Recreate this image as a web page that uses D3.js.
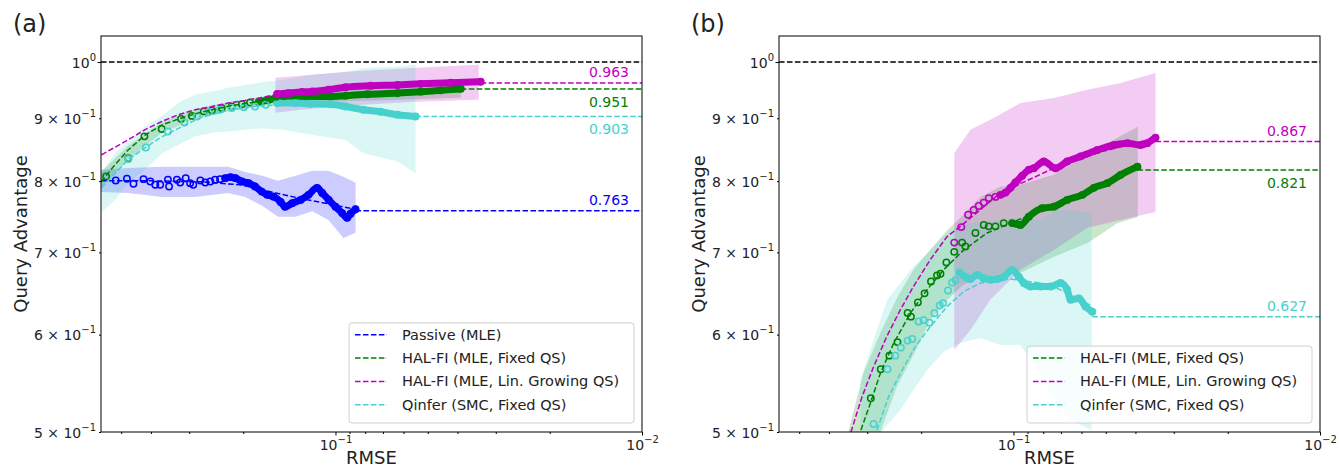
<!DOCTYPE html>
<html>
<head>
<meta charset="utf-8">
<script src="https://cdn.jsdelivr.net/npm/d3@7"></script>
<style>
body { margin: 0; background: #fff; }
text { font-family: 'DejaVu Sans', sans-serif; }
</style>
</head>
<body>
<svg id="chart" width="1339" height="470"></svg>
<script>
// ---------- panel (a): [RMSE, query advantage] ----------
var passiveA = [[0.521,0.801],[0.479,0.8035],[0.456,0.796],[0.423,0.803],[0.402,0.7995],[0.387,0.7945],[0.373,0.7945],
  [0.352,0.802],[0.349,0.792],[0.329,0.802],[0.321,0.798],[0.308,0.8045],[0.298,0.797],[0.291,0.7945],[0.276,0.801],
  [0.266,0.798],[0.256,0.7995],[0.247,0.802],[0.238,0.803],[0.229,0.8045],[0.220,0.806],[0.212,0.8045],[0.202,0.7995],
  [0.192,0.797],[0.183,0.792],[0.174,0.7845],[0.167,0.7797],[0.159,0.777],[0.151,0.7695],[0.146,0.7625],[0.1385,0.7675],
  [0.130,0.7724],[0.1225,0.7797],[0.1148,0.790],[0.1105,0.7825],[0.1052,0.7724],[0.100,0.7625],[0.0951,0.7535],
  [0.0916,0.7468],[0.0893,0.7527],[0.0860,0.759]]
var passiveFitA = [[0.582,0.8005],[0.402,0.8005],[0.276,0.799],[0.204,0.7945],[0.157,0.7826],[0.130,0.7745],[0.108,0.7675],[0.086,0.759]]
// [RMSE, lower, upper]
var passiveBandA = [[0.582,0.784,0.8173],[0.475,0.7826,0.820],[0.368,0.7767,0.822],[0.287,0.7767,0.822],[0.224,0.7826,0.822],
  [0.197,0.7767,0.814],[0.173,0.7636,0.808],[0.154,0.7484,0.8005],[0.135,0.7484,0.808],[0.119,0.7561,0.8157],
  [0.1054,0.744,0.8157],[0.0942,0.7193,0.8065],[0.086,0.7263,0.7975]]

var fixedA = [[0.560,0.807],[0.474,0.835],[0.420,0.870],[0.369,0.882],[0.319,0.899],[0.294,0.904],[0.269,0.9117],[0.253,0.9134],
  [0.235,0.9175],[0.218,0.920],[0.202,0.924],[0.190,0.927],[0.178,0.928],[0.165,0.9318],[0.153,0.935],[0.140,0.936],
  [0.121,0.9375],[0.1038,0.9375],[0.0927,0.939],[0.0786,0.9414],[0.0627,0.9435],[0.0527,0.946],[0.0454,0.9485],[0.0390,0.951]]
var fixedFitA = [[0.582,0.799],[0.524,0.825],[0.475,0.848],[0.418,0.872],[0.368,0.889],[0.316,0.9009],[0.276,0.910],
  [0.220,0.9213],[0.176,0.929],[0.130,0.936],[0.0893,0.9405],[0.0613,0.945],[0.0390,0.951]]
var fixedBandA = [[0.582,0.790,0.814],[0.475,0.8326,0.855],[0.368,0.8758,0.894],[0.287,0.899,0.9162],[0.220,0.9128,0.9283],
  [0.157,0.9248,0.9405],[0.1038,0.9283,0.9476],[0.0613,0.9318,0.953],[0.039,0.9353,0.958]]

var growingA = [[0.155,0.9418],[0.1424,0.9435],[0.1285,0.9453],[0.119,0.9464],[0.1052,0.9494],[0.0927,0.9539],[0.0768,0.9565],
  [0.0627,0.958],[0.0527,0.960],[0.0421,0.962],[0.0336,0.9637]]
var growingFitA = [[0.580,0.8404],[0.475,0.8643],[0.418,0.881],[0.369,0.8946],[0.326,0.9059],[0.287,0.9145],[0.253,0.920],
  [0.224,0.926],[0.197,0.9305],[0.174,0.9358],[0.157,0.9405],[0.130,0.945],[0.0893,0.953],[0.0613,0.958],[0.0336,0.9637]]
var growingBandA = [[0.157,0.9094,0.971],[0.130,0.9145,0.9746],[0.0927,0.9213,0.982],[0.0548,0.9283,0.9894],[0.0341,0.9318,0.995]]

var qinferA = [[0.474,0.834],[0.4155,0.852],[0.352,0.878],[0.311,0.893],[0.283,0.903],[0.259,0.9106],[0.238,0.9145],
  [0.218,0.9175],[0.199,0.919],[0.183,0.920],[0.169,0.9231],[0.155,0.926],[0.135,0.926],[0.121,0.9248],[0.1038,0.924],
  [0.0927,0.920],[0.0810,0.9145],[0.0713,0.911],[0.0627,0.9059],[0.0548,0.903]]
var qinferFitA = [[0.580,0.790],[0.475,0.8326],[0.418,0.8516],[0.369,0.8692],[0.309,0.889],[0.276,0.9009],[0.220,0.9145],
  [0.176,0.9213],[0.130,0.9248],[0.0927,0.9213],[0.0713,0.9128],[0.0548,0.9025]]
var qinferBandA = [[0.580,0.754,0.8125],[0.524,0.7724,0.8435],[0.475,0.797,0.8616],[0.418,0.8173,0.8863],[0.368,0.843,0.904],
  [0.326,0.856,0.926],[0.287,0.870,0.9405],[0.252,0.8758,0.9464],[0.224,0.878,0.953],[0.197,0.881,0.958],[0.173,0.8835,0.963],
  [0.149,0.881,0.967],[0.119,0.8726,0.9765],[0.0927,0.8643,0.981],[0.0810,0.843,0.9888],[0.0627,0.830,0.9912],[0.0548,0.812,0.995]]

// ---------- panel (b) ----------
var fixedB = [[0.292,0.5326],[0.271,0.5623],[0.254,0.5769],[0.239,0.5917],[0.2215,0.625],[0.216,0.6206],[0.205,0.6375],
  [0.195,0.6483],[0.1858,0.663],[0.1776,0.6705],[0.173,0.6725],[0.1655,0.687],[0.156,0.7007],[0.1471,0.713],[0.1435,0.7077],
  [0.1331,0.726],[0.125,0.737],[0.1204,0.735],[0.1145,0.735],[0.1076,0.7395],[0.1010,0.7395],[0.0949,0.737],[0.0891,0.7485],
  [0.0806,0.7604],[0.0738,0.7627],[0.0668,0.7724],[0.0596,0.7797],[0.0547,0.790],[0.0494,0.797],[0.0447,0.8095],[0.0394,0.822]]
var fixedFitB = [[0.3146,0.5019],[0.293,0.5276],[0.272,0.558],[0.246,0.5903],[0.217,0.6246],[0.1915,0.6527],[0.169,0.6775],
  [0.1453,0.7033],[0.1219,0.726],[0.1023,0.7395],[0.0757,0.7624],[0.052,0.7915],[0.0393,0.8218]]
var fixedBandB = [[0.346,0.466,0.500],[0.309,0.4924,0.558],[0.272,0.500,0.602],[0.239,0.546,0.644],[0.212,0.5777,0.6775],
  [0.187,0.6166,0.7033],[0.1643,0.6405,0.730],[0.1457,0.659,0.7512],[0.1282,0.6675,0.7767],[0.1103,0.6712,0.7915],
  [0.0949,0.6737,0.7945],[0.0740,0.694,0.8095],[0.0573,0.7126,0.8404],[0.0457,0.7396,0.868],[0.0393,0.748,0.8858]]

var growingB = [[0.156,0.713],[0.148,0.734],[0.1406,0.7512],[0.1348,0.758],[0.1298,0.7637],[0.125,0.7685],[0.1204,0.775],
  [0.1145,0.7767],[0.1103,0.7797],[0.1062,0.783],[0.1023,0.790],[0.0985,0.798],[0.0937,0.808],[0.0891,0.8173],[0.0858,0.8196],
  [0.0796,0.830],[0.0729,0.8196],[0.0668,0.830],[0.0604,0.838],[0.0533,0.848],[0.0470,0.856],[0.0425,0.859],[0.0385,0.856],
  [0.0366,0.859],[0.0344,0.868]]
var growingFitB = [[0.339,0.500],[0.312,0.534],[0.286,0.565],[0.259,0.598],[0.234,0.6285],[0.212,0.6566],[0.187,0.6903],
  [0.1647,0.721],[0.149,0.735],[0.1103,0.7826],[0.0757,0.8173],[0.052,0.845],[0.0344,0.8675]]
var growingBandB = [[0.156,0.583,0.843],[0.1382,0.6053,0.881],[0.119,0.6405,0.8975],[0.0949,0.6775,0.926],[0.0738,0.7033,0.935],
  [0.0574,0.733,0.9494],[0.0447,0.744,0.9614],[0.0344,0.755,0.9796]]

var qinferB = [[0.286,0.5075],[0.2575,0.5623],[0.243,0.5769],[0.233,0.5856],[0.2215,0.5934],[0.214,0.5953],[0.204,0.615],
  [0.1964,0.6166],[0.188,0.6137],[0.1812,0.6246],[0.1741,0.6337],[0.1697,0.6366],[0.1635,0.6517],[0.1586,0.6615],[0.1547,0.6646],
  [0.1498,0.674],[0.1435,0.6687],[0.1382,0.6659],[0.1314,0.6712],[0.125,0.667],[0.1189,0.665],[0.1131,0.6659],[0.1076,0.6687],
  [0.1010,0.6775],[0.0961,0.6687],[0.0925,0.661],[0.0880,0.6566],[0.0816,0.6566],[0.0757,0.6566],[0.0702,0.661],[0.0668,0.6527],
  [0.0651,0.6405],[0.0612,0.6423],[0.0582,0.6324],[0.0553,0.6264]]
var qinferFitB = [[0.279,0.5019],[0.2556,0.534],[0.234,0.558],[0.209,0.5867],[0.187,0.609],[0.1647,0.6324],[0.1453,0.6505],
  [0.1282,0.661],[0.1023,0.666],[0.0757,0.659],[0.0556,0.633]]
var qinferBandB = [[0.316,0.466,0.551],[0.2825,0.4924,0.5996],[0.258,0.5065,0.6405],[0.234,0.521,0.661],[0.212,0.541,0.6814],
  [0.191,0.5617,0.6994],[0.169,0.581,0.7207],[0.149,0.5908,0.737],[0.1282,0.5964,0.741],[0.1103,0.5886,0.744],[0.0949,0.5886,0.748],
  [0.0816,0.5565,0.744],[0.0729,0.531,0.758],[0.0651,0.5114,0.758],[0.0556,0.5019,0.754]]

// final values (horizontal dashed lines) and their printed labels
var finalA = [0.757, 0.9506, 0.9614, 0.903]
var finalLabelsA = ['0.763', '0.951', '0.963', '0.903']
var finalB = [0.817, 0.8615, 0.6206]
var finalLabelsB = ['0.821', '0.867', '0.627']

var seriesNames = ['Passive (MLE)', 'HAL-FI (MLE, Fixed QS)', 'HAL-FI (MLE, Lin. Growing QS)', 'Qinfer (SMC, Fixed QS)']
var seriesColors = ['#0000ff', '#008000', '#bf00bf', '#48d1cc']

var yTicks = [0.5, 0.6, 0.7, 0.8, 0.9, 1.0]
var yTickMant = ['5', '6', '7', '8', '9', '']
var yTickExp = ['−1', '−1', '−1', '−1', '−1', '0']
var xTicks = [0.5, 0.4, 0.3, 0.2, 0.1, 0.09, 0.08, 0.07, 0.06, 0.05, 0.04, 0.03, 0.02, 0.01]
var xMajor = [0.1, 0.01]
var xMajorExp = ['−1', '−2']

// ---------- layout ----------
var plotTop = 36, plotBottom = 432
var dash = '5.55,2.4'
var svg = d3.select('#chart')

var yScale = d3.scaleLog().domain([0.5, 1.05]).range([plotBottom, plotTop])

var panels = [
  { id: 'a', left: 101, right: 642, title: '(a)', labels: finalLabelsA, finals: finalA,
    series: [
      { c: 0, pts: passiveA, fit: passiveFitA, band: passiveBandA, dense: 0.23, pos: 'above' },
      { c: 1, pts: fixedA, fit: fixedFitA, band: fixedBandA, dense: 0.18, pos: 'below' },
      { c: 2, pts: growingA, fit: growingFitA, band: growingBandA, dense: 1, pos: 'above' },
      { c: 3, pts: qinferA, fit: qinferFitA, band: qinferBandA, dense: 0.16, pos: 'below' }
    ] },
  { id: 'b', left: 779, right: 1320, title: '(b)', labels: finalLabelsB, finals: finalB,
    series: [
      { c: 1, pts: fixedB, fit: fixedFitB, band: fixedBandB, dense: 0.106, pos: 'below' },
      { c: 2, pts: growingB, fit: growingFitB, band: growingBandB, dense: 0.112, pos: 'above' },
      { c: 3, pts: qinferB, fit: qinferFitB, band: qinferBandB, dense: 0.152, pos: 'above' }
    ] }
]

panels.forEach(drawPanel)

function drawPanel(p) {
  var x = d3.scaleLog().domain([0.582, 0.01]).range([p.left, p.right])
  var g = svg.append('g')

  svg.append('clipPath').attr('id', 'clip-' + p.id)
    .append('rect')
    .attr('x', p.left).attr('y', plotTop)
    .attr('width', p.right - p.left).attr('height', plotBottom - plotTop)

  var plot = g.append('g').attr('clip-path', 'url(#clip-' + p.id + ')')

  // shaded bands
  var area = d3.area()
    .x(function(d) { return x(d[0]) })
    .y0(function(d) { return yScale(d[1]) })
    .y1(function(d) { return yScale(d[2]) })
  p.series.forEach(function(s) {
    plot.append('path')
      .datum(s.band)
      .attr('d', area)
      .attr('fill', seriesColors[s.c])
      .attr('fill-opacity', 0.2)
  })

  var line = d3.line()
    .x(function(d) { return x(d[0]) })
    .y(function(d) { return yScale(d[1]) })

  // reference line at 1
  plot.append('path')
    .datum([[0.582, 1], [0.01, 1]])
    .attr('d', line)
    .attr('stroke', '#000').attr('stroke-width', 1.5)
    .attr('stroke-dasharray', dash).attr('fill', 'none')

  // markers (dense tails look like a thick track)
  p.series.forEach(function(s) {
    var col = seriesColors[s.c]
    plot.append('path')
      .datum(s.pts.filter(function(d) { return d[0] <= s.dense }))
      .attr('d', line.curve(d3.curveMonotoneX))
      .attr('fill', 'none')
      .attr('stroke', col)
      .attr('stroke-width', 7)
      .attr('stroke-linecap', 'round')
      .attr('stroke-linejoin', 'round')
    line.curve(d3.curveLinear)

    plot.selectAll(null)
      .data(s.pts)
      .enter()
      .append('circle')
      .attr('cx', function(d) { return x(d[0]) })
      .attr('cy', function(d) { return yScale(d[1]) })
      .attr('r', 3.2)
      .attr('fill', 'none')
      .attr('stroke', col)
      .attr('stroke-width', 1.5)
  })

  // fitted dashed curves
  p.series.forEach(function(s) {
    plot.append('path')
      .datum(s.fit)
      .attr('d', line)
      .attr('fill', 'none')
      .attr('stroke', seriesColors[s.c])
      .attr('stroke-width', 1.5)
      .attr('stroke-dasharray', dash)
  })

  // final value lines + labels
  p.series.forEach(function(s, i) {
    var v = p.finals[i]
    var last = s.pts[s.pts.length - 1][0]
    plot.append('path')
      .datum([[last, v], [0.01, v]])
      .attr('d', line)
      .attr('fill', 'none')
      .attr('stroke', seriesColors[s.c])
      .attr('stroke-width', 1.5)
      .attr('stroke-dasharray', dash)

    g.append('text')
      .attr('x', p.right - 13)
      .attr('y', yScale(v) + (s.pos === 'above' ? -6 : 18))
      .attr('text-anchor', 'end')
      .attr('font-size', 14)
      .attr('fill', seriesColors[s.c])
      .text(p.labels[i])
  })

  // frame
  g.append('rect')
    .attr('x', p.left).attr('y', plotTop)
    .attr('width', p.right - p.left).attr('height', plotBottom - plotTop)
    .attr('fill', 'none').attr('stroke', '#000').attr('stroke-width', 1)

  // y axis
  var yAxis = d3.axisLeft(yScale).tickValues(yTicks).tickFormat('').tickSizeOuter(0)
  var ya = g.append('g')
    .attr('transform', 'translate(' + p.left + ',0)')
    .call(yAxis)
  ya.select('.domain').remove()
  ya.selectAll('.tick line').attr('x2', function(d) { return d === 1 ? -3.5 : -2 })
  ya.selectAll('.tick').each(function(d, i) {
    var t = d3.select(this).append('text')
      .attr('x', -5)
      .attr('y', 5)
      .attr('text-anchor', 'end')
      .attr('font-size', 14)
      .attr('fill', '#222')
    t.append('tspan').text((yTickMant[i] ? yTickMant[i] + ' × ' : '') + '10')
    t.append('tspan').attr('dy', -7).attr('font-size', 10).text(yTickExp[i])
  })

  // x axis
  var xAxis = d3.axisBottom(x).tickValues(xTicks).tickFormat('').tickSizeOuter(0)
  var xa = g.append('g')
    .attr('transform', 'translate(0,' + plotBottom + ')')
    .call(xAxis)
  xa.select('.domain').remove()
  xa.selectAll('.tick line').attr('y2', function(d) { return xMajor.indexOf(d) >= 0 ? 3.5 : 2 })
  xa.selectAll('.tick').filter(function(d) { return xMajor.indexOf(d) >= 0 })
    .each(function(d) {
      var t = d3.select(this).append('text')
        .attr('y', 18)
        .attr('text-anchor', 'middle')
        .attr('font-size', 14)
        .attr('fill', '#222')
      t.append('tspan').text('10')
      t.append('tspan').attr('dy', -7).attr('font-size', 10).text(xMajorExp[xMajor.indexOf(d)])
    })

  // axis titles
  g.append('text')
    .attr('x', (p.left + p.right) / 2)
    .attr('y', 464)
    .attr('text-anchor', 'middle')
    .attr('font-size', 18)
    .attr('fill', '#222')
    .text('RMSE')

  g.append('text')
    .attr('transform', 'translate(' + (p.left - 74) + ',' + ((plotTop + plotBottom) / 2) + ') rotate(-90)')
    .attr('text-anchor', 'middle')
    .attr('font-size', 18)
    .attr('fill', '#222')
    .text('Query Advantage')

  g.append('text')
    .attr('x', p.left - 88)
    .attr('y', 32)
    .attr('font-size', 24)
    .attr('fill', '#222')
    .text(p.title)

  // legend
  var n = p.series.length
  var boxW = 285, rowH = 23.3
  var boxH = 13 + rowH * n - 6
  var bx = p.right - 8 - boxW, by = plotBottom - 9 - boxH
  var leg = g.append('g')
  leg.append('rect')
    .attr('x', bx).attr('y', by)
    .attr('width', boxW).attr('height', boxH)
    .attr('rx', 3)
    .attr('fill', '#fff').attr('fill-opacity', 0.8)
    .attr('stroke', '#d0d0d0')
  p.series.forEach(function(s, i) {
    var cy = by + 12 + rowH * i
    leg.append('line')
      .attr('x1', bx + 6).attr('x2', bx + 38)
      .attr('y1', cy).attr('y2', cy)
      .attr('stroke', seriesColors[s.c])
      .attr('stroke-width', 1.5)
      .attr('stroke-dasharray', dash)
    leg.append('text')
      .attr('x', bx + 53)
      .attr('y', cy + 5)
      .attr('font-size', 14.5)
      .attr('fill', '#222')
      .text(seriesNames[s.c])
  })
}
</script>
</body>
</html>
